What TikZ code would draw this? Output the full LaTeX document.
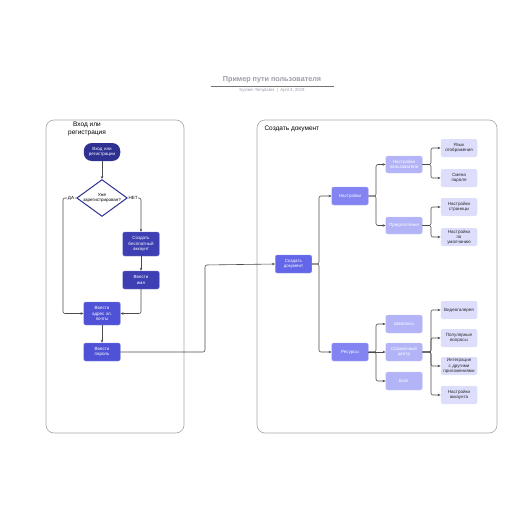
\documentclass[tikz,border=0pt]{standalone}
\usepackage{fontspec}
\setmainfont{Liberation Sans}
\usetikzlibrary{shapes.geometric,arrows.meta}
\definecolor{cA}{HTML}{2E3192}
\definecolor{cB}{HTML}{3E3FB2}
\definecolor{cC}{HTML}{4F52D6}
\definecolor{cD}{HTML}{6366E8}
\definecolor{cE}{HTML}{8384F2}
\definecolor{cF}{HTML}{B3B4F8}
\definecolor{cG}{HTML}{DDDEFC}
\definecolor{ttl}{HTML}{9A9CA8}
\tikzset{
  x=1pt,y=-1pt,
  box/.style={rounded corners=2pt,minimum width=36pt,align=center,inner sep=0.5pt,font=\fontsize{4.5}{5.2}\selectfont,text width=35.5pt},
  dk/.style={box,fill=cA,text=white,rounded corners=8pt,minimum height=18pt},
  bl/.style={box,fill=#1,text=white,draw=#1!70!white,line width=0.4pt},
  lf/.style={box,fill=cG,text=black!85,minimum height=18pt},
  conn/.style={draw=black!70,line width=0.6pt,rounded corners=2pt,-{Stealth[length=3pt,width=2.5pt]}},
  cont/.style={draw=black!35,line width=0.6pt,rounded corners=8pt},
}
\begin{document}
\begin{tikzpicture}
\useasboundingbox (0,0) rectangle (516,516);
% title
\node (title) at (272,80) {\fontsize{7.2}{8}\selectfont\bfseries\color{ttl}Пример пути пользователя};
\draw[black!55,line width=0.5pt] (211,86) -- (334,86);
\node (sub) at (272,90.5) {\fontsize{4.3}{5}\selectfont\color{ttl}System Templates \ | \ April 4, 2019};
% containers
\draw[cont] (46,120) rectangle (184,433);
\draw[cont] (257,120) rectangle (497,433);
\node[align=center,font=\fontsize{6.5}{7.5}\selectfont] (lbl1) at (87,129) {Вход или\\регистрация};
\node[anchor=west,font=\fontsize{6.5}{7.5}\selectfont] (lbl2) at (261,129) {Создать документ};
% left
\node[dk] (start) at (102,152) {Вход или\\регистрации};
\node[diamond,draw=cA,line width=1pt,fill=white,minimum width=48pt,minimum height=35pt,inner sep=0pt,align=center,font=\fontsize{4.5}{5.2}\selectfont,aspect=1.37] (q) at (102,198) {Уже\\зарегистрирован?};
\node[bl=cB,minimum height=24pt] (acc) at (141,244) {Создать\\бесплатный\\аккаунт};
\node[bl=cB,minimum height=18pt] (name) at (141,280) {Ввести\\имя};
\node[bl=cC,minimum height=23pt] (mail) at (102,313.5) {Ввести\\адрес эл.\\почты};
\node[bl=cC,minimum height=18pt] (pass) at (102,352) {Ввести\\пароль};
\draw[conn] (start) -- (q);
\draw[conn] (q.west) -- (63,198) -- (63,313.5) -- (mail.west);
\draw[conn] (q.east) -- (141,198) -- (acc.north);
\node[fill=white,inner sep=0.5pt,font=\fontsize{4.5}{5}\selectfont] (da) at (71,198) {ДА};
\node[fill=white,inner sep=0.5pt,font=\fontsize{4.5}{5}\selectfont] (net) at (133,198) {НЕТ};
\draw[conn] (acc) -- (name);
\draw[conn] (name.south) -- (141,313.5) -- (mail.east);
\draw[conn] (mail) -- (pass);
% create doc
\node[bl=cD,minimum height=18pt] (doc) at (293.5,264) {Создать\\документ};
\draw[conn] (pass.east) -- (205,352) -- (205,265) -- (doc.west);
\node[bl=cE,minimum height=18pt] (set) at (350,196) {Настройки};
\node[bl=cE,minimum height=18pt] (res) at (350,352) {Ресурсы};
\draw[conn] (doc.east) -- (319,264) -- (319,196) -- (set.west);
\draw[conn] (doc.east) -- (319,264) -- (319,352) -- (res.west);
% level 2
\node[bl=cF,minimum height=17pt] (us) at (404,164.5) {Настройки\\пользователя};
\node[bl=cF,minimum height=17pt] (pref) at (404,225.5) {Предпочтения};
\node[bl=cF,minimum height=18pt] (tpl) at (404,324) {Шаблоны};
\node[bl=cF,minimum height=18pt] (help) at (404,352) {Справочный\\центр};
\node[bl=cF,minimum height=18pt] (blog) at (404,381) {Блог};
\draw[conn] (set.east) -- (376,196) -- (376,164.5) -- (us.west);
\draw[conn] (set.east) -- (376,196) -- (376,225.5) -- (pref.west);
\draw[conn] (res.east) -- (376,352) -- (376,324) -- (tpl.west);
\draw[conn] (res.east) -- (help.west);
\draw[conn] (res.east) -- (376,352) -- (376,381) -- (blog.west);
% level 3
\node[lf] (lang) at (459,148) {Язык\\отображения};
\node[lf] (pw) at (459,178) {Смена\\пароля};
\node[lf] (page) at (459,207) {Настройки\\страницы};
\node[lf] (def) at (459,237) {Настройки\\по\\умолчанию};
\node[lf] (vid) at (459,310) {Видеогалерея};
\node[lf] (faq) at (459,338) {Популярные\\вопросы};
\node[lf] (int) at (459,366) {Интеграция\\с другими\\приложениями};
\node[lf] (acct) at (459,395) {Настройки\\аккаунта};
\draw[conn] (us.east) -- (431,164.5) -- (431,148) -- (lang.west);
\draw[conn] (us.east) -- (431,164.5) -- (431,178) -- (pw.west);
\draw[conn] (pref.east) -- (431,225.5) -- (431,207) -- (page.west);
\draw[conn] (pref.east) -- (431,225.5) -- (431,237) -- (def.west);
\draw[conn] (help.east) -- (431,352) -- (431,310) -- (vid.west);
\draw[conn] (help.east) -- (431,352) -- (431,338) -- (faq.west);
\draw[conn] (help.east) -- (431,352) -- (431,366) -- (int.west);
\draw[conn] (help.east) -- (431,352) -- (431,395) -- (acct.west);
\end{tikzpicture}
\end{document}
